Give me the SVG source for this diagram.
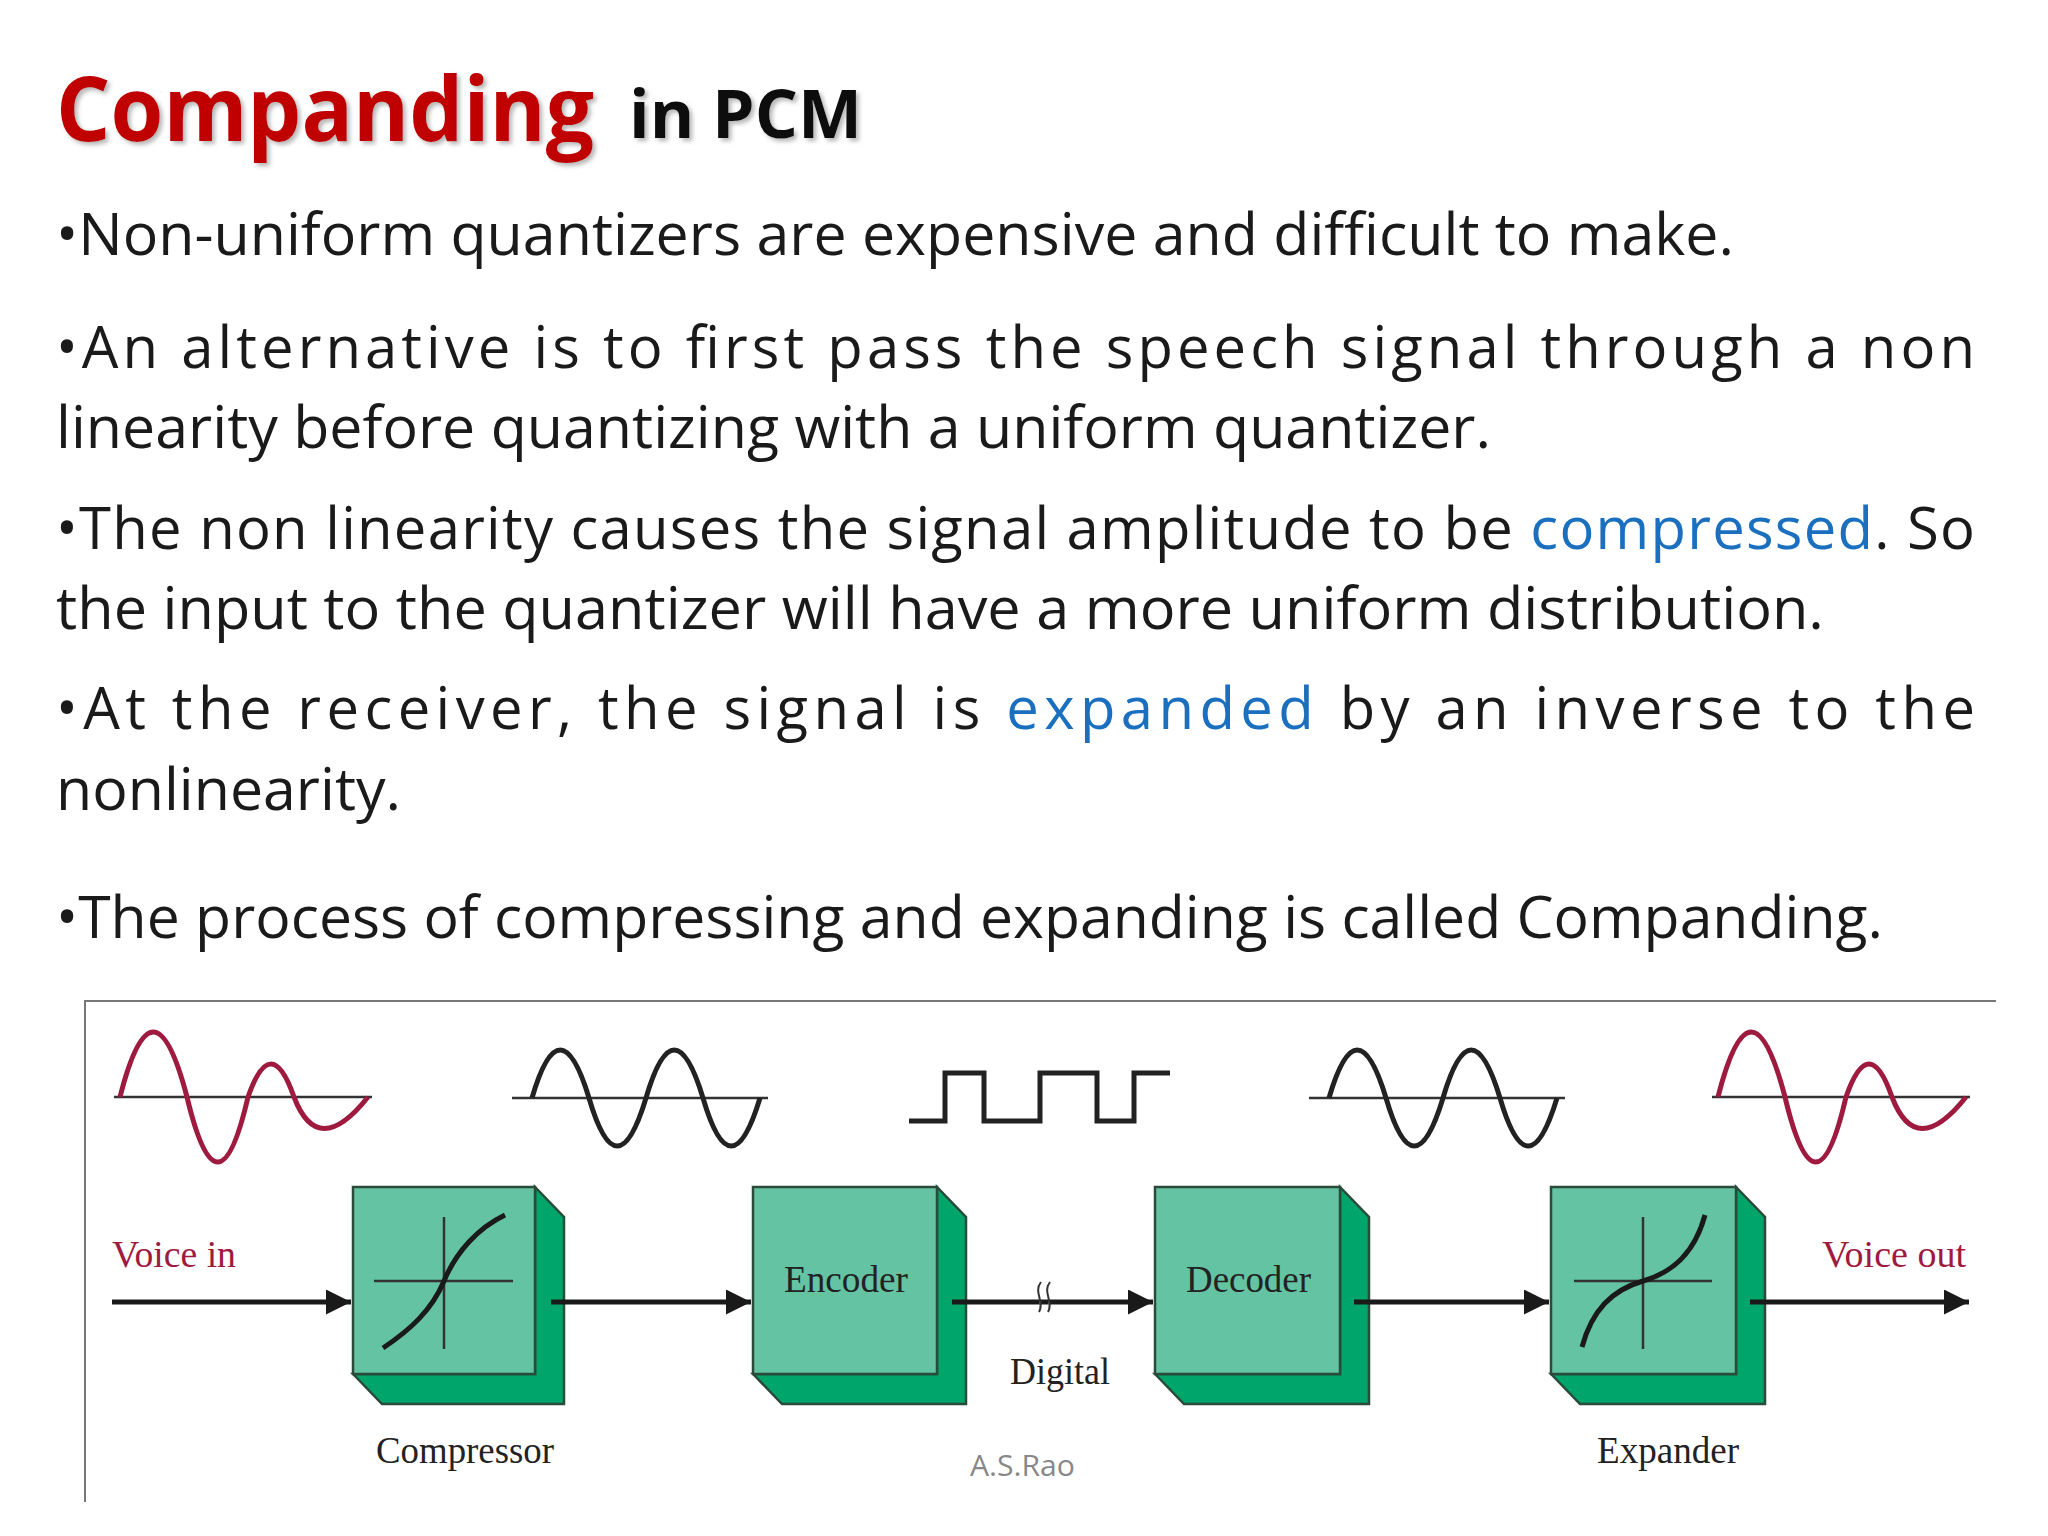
<svg xmlns="http://www.w3.org/2000/svg" width="2048" height="1536" viewBox="0 0 2048 1536">
<defs>
<style>
.b{font-family:"Open Sans","Liberation Sans",sans-serif;font-size:58px;fill:#1a1a1a}
.bl{fill:#1a6fbf}
.lbl{font-family:"Liberation Serif",serif;font-size:38px;fill:#222}
.red{fill:#9e1a3f}
.ax{stroke:#333;stroke-width:2.5;fill:none}
.wv{stroke:#222;stroke-width:5;fill:none}
.wr{stroke:#9e1a3f;stroke-width:5;fill:none}
.fr{fill:#64c3a3;stroke:#2a4a3a;stroke-width:2.5}
.sd{fill:#00a56b;stroke:#2a4a3a;stroke-width:2.5}
.cn{stroke:#1a1a1a;stroke-width:5;fill:none;marker-end:url(#ah)}
</style>
<marker id="ah" viewBox="0 0 10 10" refX="10" refY="5" markerWidth="5" markerHeight="5" orient="auto" markerUnits="strokeWidth"><path d="M0,0L10,5L0,10z" fill="#1a1a1a"/></marker>
<filter id="sh"><feDropShadow dx="3" dy="3" stdDeviation="2" flood-color="#888" flood-opacity="0.6"/></filter>
</defs>
<rect width="2048" height="1536" fill="#fff"/>
<g filter="url(#sh)">
<text x="56" y="141" font-family="'Open Sans','Liberation Sans',sans-serif" font-weight="bold" font-size="90" fill="#c00000" textLength="538" lengthAdjust="spacingAndGlyphs">Companding</text>
<text x="629" y="138" font-family="'Open Sans','Liberation Sans',sans-serif" font-weight="bold" font-size="66" fill="#111" textLength="233" lengthAdjust="spacingAndGlyphs">in PCM</text>
</g>
<text class="b" x="56" y="255" textLength="1678" lengthAdjust="spacingAndGlyphs">•Non-uniform quantizers are expensive and difficult to make.</text>
<text class="b" x="56" y="368" textLength="1919" lengthAdjust="spacing">•An alternative is to first pass the speech signal through a non</text>
<text class="b" x="56" y="448" textLength="1435" lengthAdjust="spacingAndGlyphs">linearity before quantizing with a uniform quantizer.</text>
<text class="b" x="56" y="549" textLength="1919" lengthAdjust="spacing">•The non linearity causes the signal amplitude to be <tspan class="bl">compressed</tspan>. So</text>
<text class="b" x="56" y="629" textLength="1768" lengthAdjust="spacingAndGlyphs">the input to the quantizer will have a more uniform distribution.</text>
<text class="b" x="56" y="729" textLength="1919" lengthAdjust="spacing">•At the receiver, the signal is <tspan class="bl">expanded</tspan> by an inverse to the</text>
<text class="b" x="56" y="810" textLength="345" lengthAdjust="spacingAndGlyphs">nonlinearity.</text>
<text class="b" x="56" y="938" textLength="1827" lengthAdjust="spacingAndGlyphs">•The process of compressing and expanding is called Companding.</text>
<path d="M85,1502V1001H1996" stroke="#777" stroke-width="2" fill="none"/>
<g id="waves">
<path class="ax" d="M114,1097H372"/>
<path class="wr" d="M120,1097Q153,967 187,1097Q218,1227 248,1097Q271,1031 294,1097Q318,1160 368,1097"/>
<path class="ax" d="M512,1098H768"/>
<path class="wv" d="M532,1098Q560,1002 589,1098Q617,1194 646,1098Q674,1002 703,1098Q731,1194 760,1098"/>
<path class="wv" d="M909,1121H945V1073H984V1121H1040V1073H1097V1121H1134V1073H1170"/>
<path class="ax" d="M1309,1098H1565"/>
<path class="wv" d="M1329,1098Q1357,1002 1386,1098Q1414,1194 1443,1098Q1471,1002 1500,1098Q1528,1194 1557,1098"/>
<path class="ax" d="M1712,1097H1970"/>
<path class="wr" d="M1718,1097Q1751,967 1785,1097Q1816,1227 1846,1097Q1869,1031 1892,1097Q1916,1160 1966,1097"/>
</g>
<g id="compressor">
<path class="sd" d="M353,1374L382,1404H564V1217L535,1187V1374Z"/>
<rect class="fr" x="353" y="1187" width="182" height="187"/>
<path class="ax" d="M374,1281H513M444,1217V1349"/>
<path d="M383,1348C410,1330 432,1310 444,1281C456,1252 478,1228 505,1215" stroke="#1a1a1a" stroke-width="5" fill="none"/>
<text class="lbl" x="376" y="1463" textLength="178" lengthAdjust="spacingAndGlyphs">Compressor</text>
</g>
<g id="encoder">
<path class="sd" d="M753,1374L782,1404H966V1217L937,1187V1374Z"/>
<rect class="fr" x="753" y="1187" width="184" height="187"/>
<text class="lbl" x="784" y="1292" textLength="124" lengthAdjust="spacingAndGlyphs">Encoder</text>
</g>
<g id="decoder">
<path class="sd" d="M1155,1374L1184,1404H1369V1217L1340,1187V1374Z"/>
<rect class="fr" x="1155" y="1187" width="185" height="187"/>
<text class="lbl" x="1186" y="1292" textLength="125" lengthAdjust="spacingAndGlyphs">Decoder</text>
</g>
<g id="expander">
<path class="sd" d="M1551,1374L1580,1404H1765V1217L1736,1187V1374Z"/>
<rect class="fr" x="1551" y="1187" width="185" height="187"/>
<path class="ax" d="M1574,1281H1712M1643,1217V1349"/>
<path d="M1582,1347C1592,1310 1612,1290 1643,1281C1674,1272 1695,1252 1705,1215" stroke="#1a1a1a" stroke-width="5" fill="none"/>
<text class="lbl" x="1597" y="1463" textLength="142" lengthAdjust="spacingAndGlyphs">Expander</text>
</g>
<g id="connectors">
<path class="cn" d="M112,1302H351"/>
<path class="cn" d="M551,1302H751"/>
<path class="cn" d="M952,1302H1153"/>
<path d="M1041,1282c-8,10 4,20 -2,30M1050,1282c-8,10 4,20 -2,30" stroke="#333" stroke-width="2" fill="#fff"/>
<path class="cn" d="M1354,1302H1549"/>
<path class="cn" d="M1750,1302H1969"/>
</g>
<text class="lbl red" x="112" y="1267" textLength="124" lengthAdjust="spacingAndGlyphs">Voice in</text>
<text class="lbl red" x="1822" y="1267" textLength="144" lengthAdjust="spacingAndGlyphs">Voice out</text>
<text class="lbl" x="1010" y="1384" textLength="100" lengthAdjust="spacingAndGlyphs">Digital</text>
<text x="970" y="1476" font-family="'Open Sans','Liberation Sans',sans-serif" font-size="30" fill="#888" textLength="105" lengthAdjust="spacingAndGlyphs">A.S.Rao</text>
</svg>
